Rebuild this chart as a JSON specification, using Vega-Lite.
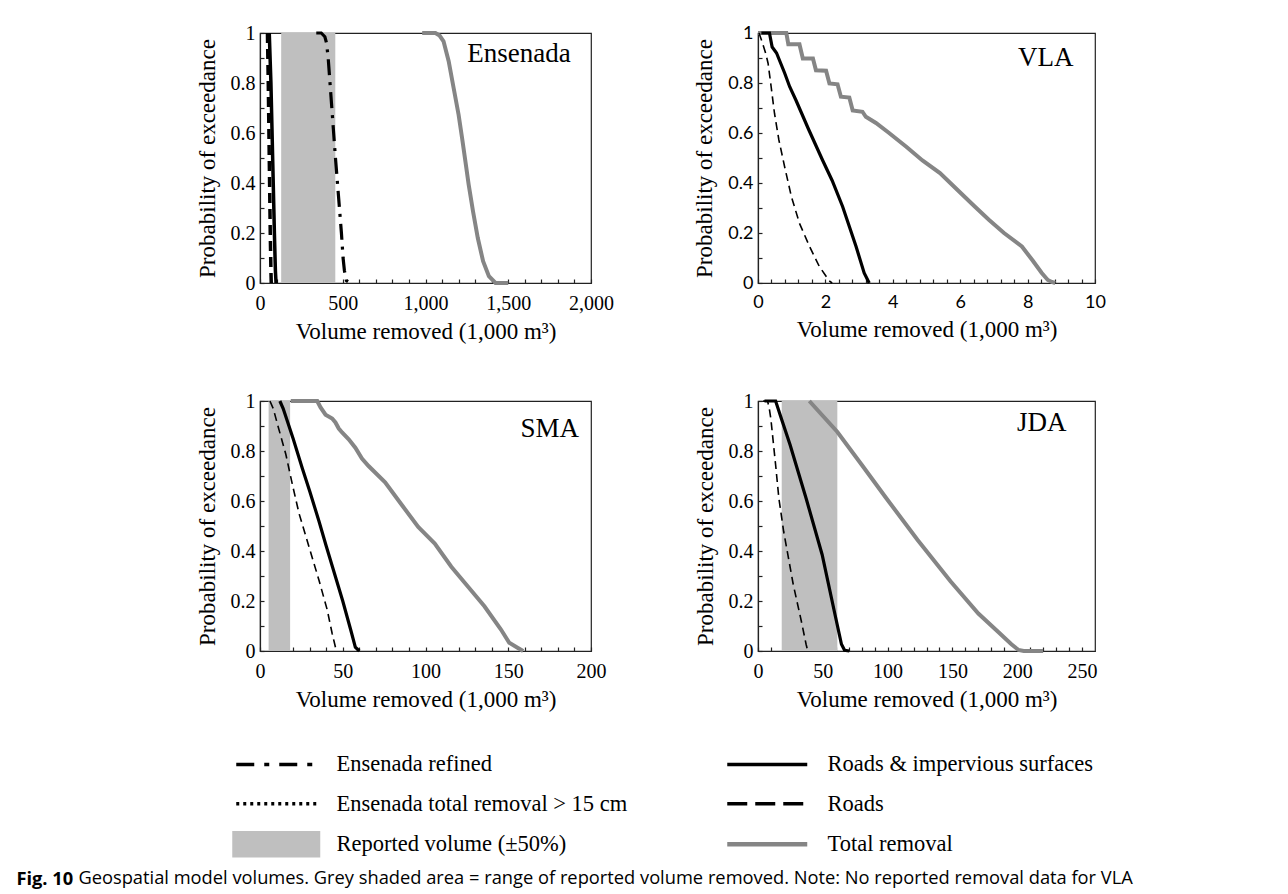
{
"$schema": "https://vega.github.io/schema/vega-lite/v6.json",
"background": "white",
"padding": {"left": 16, "top": 22, "right": 5, "bottom": 0},
"datasets": {
"bands": [
{"panel":"Ensenada","series":"Reported volume (±50%)","lo":128,"hi":455},
{"panel":"SMA","series":"Reported volume (±50%)","lo":5.2,"hi":18.2},
{"panel":"JDA","series":"Reported volume (±50%)","lo":18.3,"hi":61.2}
],
"ens": [
{"series":"Total removal","x":980,"p":1},{"series":"Total removal","x":1060,"p":1},{"series":"Total removal","x":1085,"p":0.99},{"series":"Total removal","x":1109,"p":0.967},{"series":"Total removal","x":1140,"p":0.887},{"series":"Total removal","x":1170,"p":0.78},{"series":"Total removal","x":1200,"p":0.673},{"series":"Total removal","x":1221,"p":0.58},{"series":"Total removal","x":1241,"p":0.487},{"series":"Total removal","x":1261,"p":0.393},{"series":"Total removal","x":1287,"p":0.287},{"series":"Total removal","x":1316,"p":0.18},{"series":"Total removal","x":1348,"p":0.087},{"series":"Total removal","x":1383,"p":0.027},{"series":"Total removal","x":1423,"p":0},{"series":"Total removal","x":1500,"p":0},
{"series":"Roads & impervious surfaces","x":56,"p":1},{"series":"Roads & impervious surfaces","x":66,"p":0.8},{"series":"Roads & impervious surfaces","x":73,"p":0.6},{"series":"Roads & impervious surfaces","x":80,"p":0.4},{"series":"Roads & impervious surfaces","x":87,"p":0.2},{"series":"Roads & impervious surfaces","x":93,"p":0.05},{"series":"Roads & impervious surfaces","x":97,"p":0},
{"series":"Roads","x":45,"p":1},{"series":"Roads","x":50,"p":0.8},{"series":"Roads","x":54,"p":0.6},{"series":"Roads","x":58,"p":0.4},{"series":"Roads","x":62,"p":0.2},{"series":"Roads","x":66,"p":0.05},{"series":"Roads","x":68,"p":0},
{"series":"Ensenada refined","x":340,"p":1},{"series":"Ensenada refined","x":370,"p":1},{"series":"Ensenada refined","x":392,"p":0.985},{"series":"Ensenada refined","x":402,"p":0.96},{"series":"Ensenada refined","x":412,"p":0.9},{"series":"Ensenada refined","x":423,"p":0.8},{"series":"Ensenada refined","x":434,"p":0.7},{"series":"Ensenada refined","x":445,"p":0.6},{"series":"Ensenada refined","x":456,"p":0.5},{"series":"Ensenada refined","x":468,"p":0.4},{"series":"Ensenada refined","x":480,"p":0.3},{"series":"Ensenada refined","x":492,"p":0.2},{"series":"Ensenada refined","x":502,"p":0.1},{"series":"Ensenada refined","x":510,"p":0.05},{"series":"Ensenada refined","x":522,"p":0.01},{"series":"Ensenada refined","x":545,"p":0}
],
"vla": [
{"series":"Total removal","x":0,"p":1},{"series":"Total removal","x":0.84,"p":1},{"series":"Total removal","x":0.9,"p":0.955},{"series":"Total removal","x":1.23,"p":0.955},{"series":"Total removal","x":1.33,"p":0.898},{"series":"Total removal","x":1.63,"p":0.898},{"series":"Total removal","x":1.72,"p":0.851},{"series":"Total removal","x":2.02,"p":0.849},{"series":"Total removal","x":2.12,"p":0.798},{"series":"Total removal","x":2.36,"p":0.795},{"series":"Total removal","x":2.46,"p":0.745},{"series":"Total removal","x":2.71,"p":0.742},{"series":"Total removal","x":2.81,"p":0.69},{"series":"Total removal","x":3.1,"p":0.685},{"series":"Total removal","x":3.2,"p":0.665},{"series":"Total removal","x":3.5,"p":0.64},{"series":"Total removal","x":3.89,"p":0.6},{"series":"Total removal","x":4.4,"p":0.545},{"series":"Total removal","x":4.88,"p":0.49},{"series":"Total removal","x":5.4,"p":0.44},{"series":"Total removal","x":5.86,"p":0.38},{"series":"Total removal","x":6.4,"p":0.31},{"series":"Total removal","x":6.85,"p":0.253},{"series":"Total removal","x":7.3,"p":0.2},{"series":"Total removal","x":7.83,"p":0.146},{"series":"Total removal","x":8.15,"p":0.09},{"series":"Total removal","x":8.42,"p":0.04},{"series":"Total removal","x":8.6,"p":0.012},{"series":"Total removal","x":8.72,"p":0.004},{"series":"Total removal","x":8.82,"p":0},
{"series":"Roads & impervious surfaces","x":0.1,"p":1},{"series":"Roads & impervious surfaces","x":0.34,"p":1},{"series":"Roads & impervious surfaces","x":0.42,"p":0.944},{"series":"Roads & impervious surfaces","x":0.55,"p":0.92},{"series":"Roads & impervious surfaces","x":0.64,"p":0.89},{"series":"Roads & impervious surfaces","x":0.79,"p":0.84},{"series":"Roads & impervious surfaces","x":0.94,"p":0.785},{"series":"Roads & impervious surfaces","x":1.13,"p":0.73},{"series":"Roads & impervious surfaces","x":1.5,"p":0.615},{"series":"Roads & impervious surfaces","x":1.92,"p":0.49},{"series":"Roads & impervious surfaces","x":2.2,"p":0.41},{"series":"Roads & impervious surfaces","x":2.51,"p":0.306},{"series":"Roads & impervious surfaces","x":2.91,"p":0.146},{"series":"Roads & impervious surfaces","x":3.15,"p":0.04},{"series":"Roads & impervious surfaces","x":3.3,"p":0},
{"series":"Roads","x":0.03,"p":1},{"series":"Roads","x":0.12,"p":0.965},{"series":"Roads","x":0.23,"p":0.918},{"series":"Roads","x":0.3,"p":0.878},{"series":"Roads","x":0.39,"p":0.785},{"series":"Roads","x":0.49,"p":0.678},{"series":"Roads","x":0.62,"p":0.572},{"series":"Roads","x":0.79,"p":0.465},{"series":"Roads","x":0.99,"p":0.346},{"series":"Roads","x":1.23,"p":0.239},{"series":"Roads","x":1.53,"p":0.146},{"series":"Roads","x":1.82,"p":0.066},{"series":"Roads","x":2.02,"p":0.027},{"series":"Roads","x":2.1,"p":0.01},{"series":"Roads","x":2.2,"p":0}
],
"sma": [
{"series":"Total removal","x":18.6,"p":1},{"series":"Total removal","x":34.6,"p":1},{"series":"Total removal","x":36.5,"p":0.975},{"series":"Total removal","x":39.6,"p":0.945},{"series":"Total removal","x":43.6,"p":0.93},{"series":"Total removal","x":45.6,"p":0.914},{"series":"Total removal","x":47.6,"p":0.89},{"series":"Total removal","x":49.6,"p":0.874},{"series":"Total removal","x":53.6,"p":0.847},{"series":"Total removal","x":57.6,"p":0.813},{"series":"Total removal","x":61.6,"p":0.77},{"series":"Total removal","x":65.6,"p":0.74},{"series":"Total removal","x":75.6,"p":0.675},{"series":"Total removal","x":85.6,"p":0.585},{"series":"Total removal","x":95.6,"p":0.496},{"series":"Total removal","x":105.6,"p":0.43},{"series":"Total removal","x":115.6,"p":0.337},{"series":"Total removal","x":125.6,"p":0.258},{"series":"Total removal","x":135.6,"p":0.179},{"series":"Total removal","x":145.6,"p":0.086},{"series":"Total removal","x":150.6,"p":0.033},{"series":"Total removal","x":155.6,"p":0.013},{"series":"Total removal","x":159,"p":0},
{"series":"Roads & impervious surfaces","x":12,"p":1},{"series":"Roads & impervious surfaces","x":14,"p":0.97},{"series":"Roads & impervious surfaces","x":16,"p":0.93},{"series":"Roads & impervious surfaces","x":20,"p":0.85},{"series":"Roads & impervious surfaces","x":25.6,"p":0.73},{"series":"Roads & impervious surfaces","x":30,"p":0.64},{"series":"Roads & impervious surfaces","x":35.6,"p":0.52},{"series":"Roads & impervious surfaces","x":40,"p":0.42},{"series":"Roads & impervious surfaces","x":45,"p":0.31},{"series":"Roads & impervious surfaces","x":50,"p":0.2},{"series":"Roads & impervious surfaces","x":55,"p":0.08},{"series":"Roads & impervious surfaces","x":57.6,"p":0.015},{"series":"Roads & impervious surfaces","x":60,"p":0},
{"series":"Roads","x":6,"p":1},{"series":"Roads","x":8,"p":0.97},{"series":"Roads","x":10.6,"p":0.906},{"series":"Roads","x":15.6,"p":0.787},{"series":"Roads","x":19.6,"p":0.665},{"series":"Roads","x":23.6,"p":0.55},{"series":"Roads","x":29.6,"p":0.417},{"series":"Roads","x":35.6,"p":0.284},{"series":"Roads","x":40.6,"p":0.165},{"series":"Roads","x":43.6,"p":0.07},{"series":"Roads","x":45.6,"p":0.015},{"series":"Roads","x":47,"p":0}
],
"jda": [
{"series":"Total removal","x":39.6,"p":1},{"series":"Total removal","x":61.1,"p":0.877},{"series":"Total removal","x":80,"p":0.745},{"series":"Total removal","x":99,"p":0.611},{"series":"Total removal","x":123,"p":0.445},{"series":"Total removal","x":148.5,"p":0.279},{"series":"Total removal","x":170,"p":0.15},{"series":"Total removal","x":185.6,"p":0.075},{"series":"Total removal","x":195.5,"p":0.027},{"series":"Total removal","x":201,"p":0.004},{"series":"Total removal","x":205,"p":0},{"series":"Total removal","x":220,"p":0},
{"series":"Roads & impervious surfaces","x":5,"p":1},{"series":"Roads & impervious surfaces","x":13.6,"p":1},{"series":"Roads & impervious surfaces","x":18,"p":0.93},{"series":"Roads & impervious surfaces","x":24.8,"p":0.824},{"series":"Roads & impervious surfaces","x":37.1,"p":0.611},{"series":"Roads & impervious surfaces","x":49.5,"p":0.385},{"series":"Roads & impervious surfaces","x":59.4,"p":0.146},{"series":"Roads & impervious surfaces","x":64.4,"p":0.027},{"series":"Roads & impervious surfaces","x":66.8,"p":0.003},{"series":"Roads & impervious surfaces","x":70.5,"p":0},
{"series":"Roads","x":4,"p":1},{"series":"Roads","x":7.4,"p":1},{"series":"Roads","x":8.7,"p":0.97},{"series":"Roads","x":9.9,"p":0.93},{"series":"Roads","x":13.6,"p":0.744},{"series":"Roads","x":16.1,"p":0.611},{"series":"Roads","x":19.8,"p":0.478},{"series":"Roads","x":27.2,"p":0.266},{"series":"Roads","x":33.4,"p":0.12},{"series":"Roads","x":37.1,"p":0.027},{"series":"Roads","x":38.4,"p":0}
]
},
"title": {"text": "Geospatial model volumes. Grey shaded area = range of reported volume removed. Note: No reported removal data for VLA", "orient": "bottom", "anchor": "start", "frame": "bounds", "font": "Open Sans", "fontSize": 18.3, "fontWeight": "normal", "color": "black", "offset": -18, "dx": 62},
"resolve": {"scale": {"color": "independent"}},
"vconcat": [
{
"title": {"text": "Fig. 10", "orient": "bottom", "anchor": "start", "frame": "bounds", "font": "Open Sans", "fontSize": 18.3, "fontWeight": "bold", "color": "black", "offset": 13, "dx": -179},
"spacing": 46,
"vconcat": [
{"spacing": 78, "hconcat": [
{
"width": 331, "height": 250,
"data": {"name": "ens"},
"layer": [
{"data": {"name": "bands"}, "transform": [{"filter": {"field": "panel", "equal": "Ensenada"}}], "mark": {"type": "rect"},
 "encoding": {
  "x": {"field": "lo", "type": "quantitative", "scale": {"domain": [0, 2000]}, "axis": {"title": "Volume removed (1,000 m³)", "labelOverlap": false, "values": [0,100,200,300,400,500,600,700,800,900,1000,1100,1200,1300,1400,1500,1600,1700,1800,1900,2000], "labelExpr": "datum.value % 500 === 0 ? format(datum.value, ',') : ''"}},
  "x2": {"field": "hi"},
  "color": {"field": "series", "type": "nominal",
   "scale": {"domain": ["Ensenada refined", "Ensenada total removal > 15 cm", "Reported volume (±50%)", "Roads & impervious surfaces", "Roads", "Total removal"], "range": ["black", "black", "#bfbfbf", "black", "black", "#858585"]},
   "legend": {"title": null, "orient": "none", "legendX": 5, "legendY": 719, "columns": 2, "columnPadding": 90, "rowPadding": 13.5, "padding": 0, "gridAlign": "all",
    "symbolType": "stroke", "symbolSize": 6400, "symbolOffset": 0, "symbolStrokeWidth": 3.5,
    "labelFont": "Liberation Serif", "labelFontSize": 22.5, "labelColor": "black", "labelOffset": 49, "labelLimit": 400,
    "encode": {"symbols": {"update": {
      "shape": {"signal": "datum.value === 'Reported volume (±50%)' ? 'M-1.1,-0.33H1.1V0.33H-1.1Z' : 'stroke'"},
      "fill": {"signal": "datum.value === 'Reported volume (±50%)' ? '#bfbfbf' : 'transparent'"},
      "opacity": {"value": 1},
      "stroke": {"signal": "datum.value === 'Reported volume (±50%)' ? 'transparent' : datum.value === 'Total removal' ? '#858585' : 'black'"},
      "strokeWidth": {"signal": "datum.value === 'Reported volume (±50%)' ? 0 : datum.value === 'Total removal' ? 4.5 : 3.5"},
      "strokeDash": {"signal": "datum.value === 'Roads' ? [20,8] : datum.value === 'Ensenada refined' ? [18,10,5,10] : datum.value === 'Ensenada total removal > 15 cm' ? [3,4] : [1,0]"}
    }}}
   }}}},
{"transform": [{"filter": {"field": "series", "equal": "Total removal"}}], "mark": {"type": "line", "stroke": "#858585", "strokeWidth": 4},
 "encoding": {
  "x": {"field": "x", "type": "quantitative", "scale": {"domain": [0, 2000]}, "axis": {"title": "Volume removed (1,000 m³)", "labelOverlap": false, "values": [0,100,200,300,400,500,600,700,800,900,1000,1100,1200,1300,1400,1500,1600,1700,1800,1900,2000], "labelExpr": "datum.value % 500 === 0 ? format(datum.value, ',') : ''"}},
  "y": {"field": "p", "type": "quantitative", "scale": {"domain": [0, 1]}, "axis": {"title": "Probability of exceedance", "labelOverlap": false, "values": [0,0.1,0.2,0.3,0.4,0.5,0.6,0.7,0.8,0.9,1], "labelExpr": "round(datum.value*10) % 2 === 0 ? format(datum.value, '') : ''"}},
  "order": {"value": null}}},
{"transform": [{"filter": {"field": "series", "equal": "Roads"}}], "mark": {"type": "line", "stroke": "black", "strokeWidth": 3.5, "strokeDash": [10, 6]},
 "encoding": {
  "x": {"field": "x", "type": "quantitative", "axis": {"title": "Volume removed (1,000 m³)", "labelOverlap": false, "values": [0,100,200,300,400,500,600,700,800,900,1000,1100,1200,1300,1400,1500,1600,1700,1800,1900,2000], "labelExpr": "datum.value % 500 === 0 ? format(datum.value, ',') : ''"}},
  "y": {"field": "p", "type": "quantitative", "axis": {"title": "Probability of exceedance", "labelOverlap": false, "values": [0,0.1,0.2,0.3,0.4,0.5,0.6,0.7,0.8,0.9,1], "labelExpr": "round(datum.value*10) % 2 === 0 ? format(datum.value, '') : ''"}},
  "order": {"value": null}}},
{"transform": [{"filter": {"field": "series", "equal": "Roads & impervious surfaces"}}], "mark": {"type": "line", "stroke": "black", "strokeWidth": 3.5},
 "encoding": {
  "x": {"field": "x", "type": "quantitative", "axis": {"title": "Volume removed (1,000 m³)", "labelOverlap": false, "values": [0,100,200,300,400,500,600,700,800,900,1000,1100,1200,1300,1400,1500,1600,1700,1800,1900,2000], "labelExpr": "datum.value % 500 === 0 ? format(datum.value, ',') : ''"}},
  "y": {"field": "p", "type": "quantitative", "axis": {"title": "Probability of exceedance", "labelOverlap": false, "values": [0,0.1,0.2,0.3,0.4,0.5,0.6,0.7,0.8,0.9,1], "labelExpr": "round(datum.value*10) % 2 === 0 ? format(datum.value, '') : ''"}},
  "order": {"value": null}}},
{"transform": [{"filter": {"field": "series", "equal": "Ensenada refined"}}], "mark": {"type": "line", "stroke": "black", "strokeWidth": 3.2, "strokeDash": [16, 7, 3, 7]},
 "encoding": {
  "x": {"field": "x", "type": "quantitative", "axis": {"title": "Volume removed (1,000 m³)", "labelOverlap": false, "values": [0,100,200,300,400,500,600,700,800,900,1000,1100,1200,1300,1400,1500,1600,1700,1800,1900,2000], "labelExpr": "datum.value % 500 === 0 ? format(datum.value, ',') : ''"}},
  "y": {"field": "p", "type": "quantitative", "axis": {"title": "Probability of exceedance", "labelOverlap": false, "values": [0,0.1,0.2,0.3,0.4,0.5,0.6,0.7,0.8,0.9,1], "labelExpr": "round(datum.value*10) % 2 === 0 ? format(datum.value, '') : ''"}},
  "order": {"value": null}}},
{"data": {"values": [{"label": "Ensenada"}]}, "mark": {"type": "text", "align": "right", "baseline": "middle", "font": "Liberation Serif", "fontSize": 27, "color": "black"},
 "encoding": {
  "x": {"datum": 1878, "axis": {"title": "Volume removed (1,000 m³)", "labelOverlap": false, "values": [0,100,200,300,400,500,600,700,800,900,1000,1100,1200,1300,1400,1500,1600,1700,1800,1900,2000], "labelExpr": "datum.value % 500 === 0 ? format(datum.value, ',') : ''"}},
  "y": {"datum": 0.915, "axis": {"title": "Probability of exceedance", "labelOverlap": false, "values": [0,0.1,0.2,0.3,0.4,0.5,0.6,0.7,0.8,0.9,1], "labelExpr": "round(datum.value*10) % 2 === 0 ? format(datum.value, '') : ''"}},
  "text": {"field": "label"}}}
]
},
{
"width": 337, "height": 250,
"data": {"name": "vla"},
"layer": [
{"transform": [{"filter": {"field": "series", "equal": "Total removal"}}], "mark": {"type": "line", "stroke": "#858585", "strokeWidth": 4},
 "encoding": {
  "x": {"field": "x", "type": "quantitative", "scale": {"domain": [0, 10]}, "axis": {"title": "Volume removed (1,000 m³)", "labelOverlap": false, "labelFont": "Lato", "labelFontSize": 18, "values": [0,0.4,0.8,1.2,1.6,2,2.4,2.8,3.2,3.6,4,4.4,4.8,5.2,5.6,6,6.4,6.8,7.2,7.6,8,8.4,8.8,9.2,9.6,10], "labelExpr": "abs(datum.value/2 - round(datum.value/2)) < 0.001 ? format(datum.value, 'd') : ''"}},
  "y": {"field": "p", "type": "quantitative", "scale": {"domain": [0, 1]}, "axis": {"title": "Probability of exceedance", "labelOverlap": false, "labelFont": "Lato", "labelFontSize": 18, "values": [0,0.1,0.2,0.3,0.4,0.5,0.6,0.7,0.8,0.9,1], "labelExpr": "round(datum.value*10) % 2 === 0 ? format(datum.value, '') : ''"}},
  "order": {"value": null}}},
{"transform": [{"filter": {"field": "series", "equal": "Roads"}}], "mark": {"type": "line", "stroke": "black", "strokeWidth": 1.6, "strokeDash": [8, 5]},
 "encoding": {
  "x": {"field": "x", "type": "quantitative", "axis": {"title": "Volume removed (1,000 m³)", "labelOverlap": false, "labelFont": "Lato", "labelFontSize": 18, "values": [0,0.4,0.8,1.2,1.6,2,2.4,2.8,3.2,3.6,4,4.4,4.8,5.2,5.6,6,6.4,6.8,7.2,7.6,8,8.4,8.8,9.2,9.6,10], "labelExpr": "abs(datum.value/2 - round(datum.value/2)) < 0.001 ? format(datum.value, 'd') : ''"}},
  "y": {"field": "p", "type": "quantitative", "axis": {"title": "Probability of exceedance", "labelOverlap": false, "labelFont": "Lato", "labelFontSize": 18, "values": [0,0.1,0.2,0.3,0.4,0.5,0.6,0.7,0.8,0.9,1], "labelExpr": "round(datum.value*10) % 2 === 0 ? format(datum.value, '') : ''"}},
  "order": {"value": null}}},
{"transform": [{"filter": {"field": "series", "equal": "Roads & impervious surfaces"}}], "mark": {"type": "line", "stroke": "black", "strokeWidth": 3.2},
 "encoding": {
  "x": {"field": "x", "type": "quantitative", "axis": {"title": "Volume removed (1,000 m³)", "labelOverlap": false, "labelFont": "Lato", "labelFontSize": 18, "values": [0,0.4,0.8,1.2,1.6,2,2.4,2.8,3.2,3.6,4,4.4,4.8,5.2,5.6,6,6.4,6.8,7.2,7.6,8,8.4,8.8,9.2,9.6,10], "labelExpr": "abs(datum.value/2 - round(datum.value/2)) < 0.001 ? format(datum.value, 'd') : ''"}},
  "y": {"field": "p", "type": "quantitative", "axis": {"title": "Probability of exceedance", "labelOverlap": false, "labelFont": "Lato", "labelFontSize": 18, "values": [0,0.1,0.2,0.3,0.4,0.5,0.6,0.7,0.8,0.9,1], "labelExpr": "round(datum.value*10) % 2 === 0 ? format(datum.value, '') : ''"}},
  "order": {"value": null}}},
{"data": {"values": [{"label": "VLA"}]}, "mark": {"type": "text", "align": "right", "baseline": "middle", "font": "Liberation Serif", "fontSize": 27, "color": "black"},
 "encoding": {
  "x": {"datum": 9.36, "axis": {"title": "Volume removed (1,000 m³)", "labelOverlap": false, "labelFont": "Lato", "labelFontSize": 18, "values": [0,0.4,0.8,1.2,1.6,2,2.4,2.8,3.2,3.6,4,4.4,4.8,5.2,5.6,6,6.4,6.8,7.2,7.6,8,8.4,8.8,9.2,9.6,10], "labelExpr": "abs(datum.value/2 - round(datum.value/2)) < 0.001 ? format(datum.value, 'd') : ''"}},
  "y": {"datum": 0.9, "axis": {"title": "Probability of exceedance", "labelOverlap": false, "labelFont": "Lato", "labelFontSize": 18, "values": [0,0.1,0.2,0.3,0.4,0.5,0.6,0.7,0.8,0.9,1], "labelExpr": "round(datum.value*10) % 2 === 0 ? format(datum.value, '') : ''"}},
  "text": {"field": "label"}}}
]
}
]},
{"spacing": 86, "hconcat": [
{
"width": 331, "height": 250,
"data": {"name": "sma"},
"layer": [
{"data": {"name": "bands"}, "transform": [{"filter": {"field": "panel", "equal": "SMA"}}], "mark": {"type": "rect", "fill": "#bfbfbf"},
 "encoding": {
  "x": {"field": "lo", "type": "quantitative", "scale": {"domain": [0, 200]}, "axis": {"title": "Volume removed (1,000 m³)", "labelOverlap": false, "values": [0,10,20,30,40,50,60,70,80,90,100,110,120,130,140,150,160,170,180,190,200], "labelExpr": "datum.value % 50 === 0 ? format(datum.value, 'd') : ''"}},
  "x2": {"field": "hi"}}},
{"transform": [{"filter": {"field": "series", "equal": "Total removal"}}], "mark": {"type": "line", "stroke": "#858585", "strokeWidth": 4},
 "encoding": {
  "x": {"field": "x", "type": "quantitative", "scale": {"domain": [0, 200]}, "axis": {"title": "Volume removed (1,000 m³)", "labelOverlap": false, "values": [0,10,20,30,40,50,60,70,80,90,100,110,120,130,140,150,160,170,180,190,200], "labelExpr": "datum.value % 50 === 0 ? format(datum.value, 'd') : ''"}},
  "y": {"field": "p", "type": "quantitative", "scale": {"domain": [0, 1]}, "axis": {"title": "Probability of exceedance", "labelOverlap": false, "values": [0,0.1,0.2,0.3,0.4,0.5,0.6,0.7,0.8,0.9,1], "labelExpr": "round(datum.value*10) % 2 === 0 ? format(datum.value, '') : ''"}},
  "order": {"value": null}}},
{"transform": [{"filter": {"field": "series", "equal": "Roads"}}], "mark": {"type": "line", "stroke": "black", "strokeWidth": 1.6, "strokeDash": [8, 5]},
 "encoding": {
  "x": {"field": "x", "type": "quantitative", "axis": {"title": "Volume removed (1,000 m³)", "labelOverlap": false, "values": [0,10,20,30,40,50,60,70,80,90,100,110,120,130,140,150,160,170,180,190,200], "labelExpr": "datum.value % 50 === 0 ? format(datum.value, 'd') : ''"}},
  "y": {"field": "p", "type": "quantitative", "axis": {"title": "Probability of exceedance", "labelOverlap": false, "values": [0,0.1,0.2,0.3,0.4,0.5,0.6,0.7,0.8,0.9,1], "labelExpr": "round(datum.value*10) % 2 === 0 ? format(datum.value, '') : ''"}},
  "order": {"value": null}}},
{"transform": [{"filter": {"field": "series", "equal": "Roads & impervious surfaces"}}], "mark": {"type": "line", "stroke": "black", "strokeWidth": 3.2},
 "encoding": {
  "x": {"field": "x", "type": "quantitative", "axis": {"title": "Volume removed (1,000 m³)", "labelOverlap": false, "values": [0,10,20,30,40,50,60,70,80,90,100,110,120,130,140,150,160,170,180,190,200], "labelExpr": "datum.value % 50 === 0 ? format(datum.value, 'd') : ''"}},
  "y": {"field": "p", "type": "quantitative", "axis": {"title": "Probability of exceedance", "labelOverlap": false, "values": [0,0.1,0.2,0.3,0.4,0.5,0.6,0.7,0.8,0.9,1], "labelExpr": "round(datum.value*10) % 2 === 0 ? format(datum.value, '') : ''"}},
  "order": {"value": null}}},
{"data": {"values": [{"label": "SMA"}]}, "mark": {"type": "text", "align": "right", "baseline": "middle", "font": "Liberation Serif", "fontSize": 27, "color": "black"},
 "encoding": {
  "x": {"datum": 192.8, "axis": {"title": "Volume removed (1,000 m³)", "labelOverlap": false, "values": [0,10,20,30,40,50,60,70,80,90,100,110,120,130,140,150,160,170,180,190,200], "labelExpr": "datum.value % 50 === 0 ? format(datum.value, 'd') : ''"}},
  "y": {"datum": 0.887, "axis": {"title": "Probability of exceedance", "labelOverlap": false, "values": [0,0.1,0.2,0.3,0.4,0.5,0.6,0.7,0.8,0.9,1], "labelExpr": "round(datum.value*10) % 2 === 0 ? format(datum.value, '') : ''"}},
  "text": {"field": "label"}}}
]
},
{
"width": 337, "height": 250,
"data": {"name": "jda"},
"layer": [
{"data": {"name": "bands"}, "transform": [{"filter": {"field": "panel", "equal": "JDA"}}], "mark": {"type": "rect", "fill": "#bfbfbf"},
 "encoding": {
  "x": {"field": "lo", "type": "quantitative", "scale": {"domain": [0, 250]}, "axis": {"title": "Volume removed (1,000 m³)", "labelOverlap": false, "values": [0,10,20,30,40,50,60,70,80,90,100,110,120,130,140,150,160,170,180,190,200,210,220,230,240,250], "labelExpr": "datum.value % 50 === 0 ? format(datum.value, 'd') : ''"}},
  "x2": {"field": "hi"}}},
{"transform": [{"filter": {"field": "series", "equal": "Total removal"}}], "mark": {"type": "line", "stroke": "#858585", "strokeWidth": 4},
 "encoding": {
  "x": {"field": "x", "type": "quantitative", "scale": {"domain": [0, 250]}, "axis": {"title": "Volume removed (1,000 m³)", "labelOverlap": false, "values": [0,10,20,30,40,50,60,70,80,90,100,110,120,130,140,150,160,170,180,190,200,210,220,230,240,250], "labelExpr": "datum.value % 50 === 0 ? format(datum.value, 'd') : ''"}},
  "y": {"field": "p", "type": "quantitative", "scale": {"domain": [0, 1]}, "axis": {"title": "Probability of exceedance", "labelOverlap": false, "values": [0,0.1,0.2,0.3,0.4,0.5,0.6,0.7,0.8,0.9,1], "labelExpr": "round(datum.value*10) % 2 === 0 ? format(datum.value, '') : ''"}},
  "order": {"value": null}}},
{"transform": [{"filter": {"field": "series", "equal": "Roads"}}], "mark": {"type": "line", "stroke": "black", "strokeWidth": 1.6, "strokeDash": [8, 5]},
 "encoding": {
  "x": {"field": "x", "type": "quantitative", "axis": {"title": "Volume removed (1,000 m³)", "labelOverlap": false, "values": [0,10,20,30,40,50,60,70,80,90,100,110,120,130,140,150,160,170,180,190,200,210,220,230,240,250], "labelExpr": "datum.value % 50 === 0 ? format(datum.value, 'd') : ''"}},
  "y": {"field": "p", "type": "quantitative", "axis": {"title": "Probability of exceedance", "labelOverlap": false, "values": [0,0.1,0.2,0.3,0.4,0.5,0.6,0.7,0.8,0.9,1], "labelExpr": "round(datum.value*10) % 2 === 0 ? format(datum.value, '') : ''"}},
  "order": {"value": null}}},
{"transform": [{"filter": {"field": "series", "equal": "Roads & impervious surfaces"}}], "mark": {"type": "line", "stroke": "black", "strokeWidth": 3.2},
 "encoding": {
  "x": {"field": "x", "type": "quantitative", "axis": {"title": "Volume removed (1,000 m³)", "labelOverlap": false, "values": [0,10,20,30,40,50,60,70,80,90,100,110,120,130,140,150,160,170,180,190,200,210,220,230,240,250], "labelExpr": "datum.value % 50 === 0 ? format(datum.value, 'd') : ''"}},
  "y": {"field": "p", "type": "quantitative", "axis": {"title": "Probability of exceedance", "labelOverlap": false, "values": [0,0.1,0.2,0.3,0.4,0.5,0.6,0.7,0.8,0.9,1], "labelExpr": "round(datum.value*10) % 2 === 0 ? format(datum.value, '') : ''"}},
  "order": {"value": null}}},
{"data": {"values": [{"label": "JDA"}]}, "mark": {"type": "text", "align": "right", "baseline": "middle", "font": "Liberation Serif", "fontSize": 27, "color": "black"},
 "encoding": {
  "x": {"datum": 238, "axis": {"title": "Volume removed (1,000 m³)", "labelOverlap": false, "values": [0,10,20,30,40,50,60,70,80,90,100,110,120,130,140,150,160,170,180,190,200,210,220,230,240,250], "labelExpr": "datum.value % 50 === 0 ? format(datum.value, 'd') : ''"}},
  "y": {"datum": 0.912, "axis": {"title": "Probability of exceedance", "labelOverlap": false, "values": [0,0.1,0.2,0.3,0.4,0.5,0.6,0.7,0.8,0.9,1], "labelExpr": "round(datum.value*10) % 2 === 0 ? format(datum.value, '') : ''"}},
  "text": {"field": "label"}}}
]
}
]}
]
}
],
"config": {
"view": {"stroke": "#222", "strokeWidth": 1.2},
"axis": {"grid": false, "domainColor": "#222", "domainWidth": 1.2, "tickColor": "#222", "tickWidth": 1.2, "tickSize": -4, "labelFont": "Liberation Serif", "labelFontSize": 20, "labelColor": "black", "titleFont": "Liberation Serif", "titleFontSize": 23, "titleFontWeight": "normal", "titleColor": "black", "labelFlush": false, "labelOverlap": false, "labelBound": false},
"axisX": {"labelPadding": 14, "titlePadding": 7},
"axisY": {"labelPadding": 9, "titlePadding": 11}
}
}
